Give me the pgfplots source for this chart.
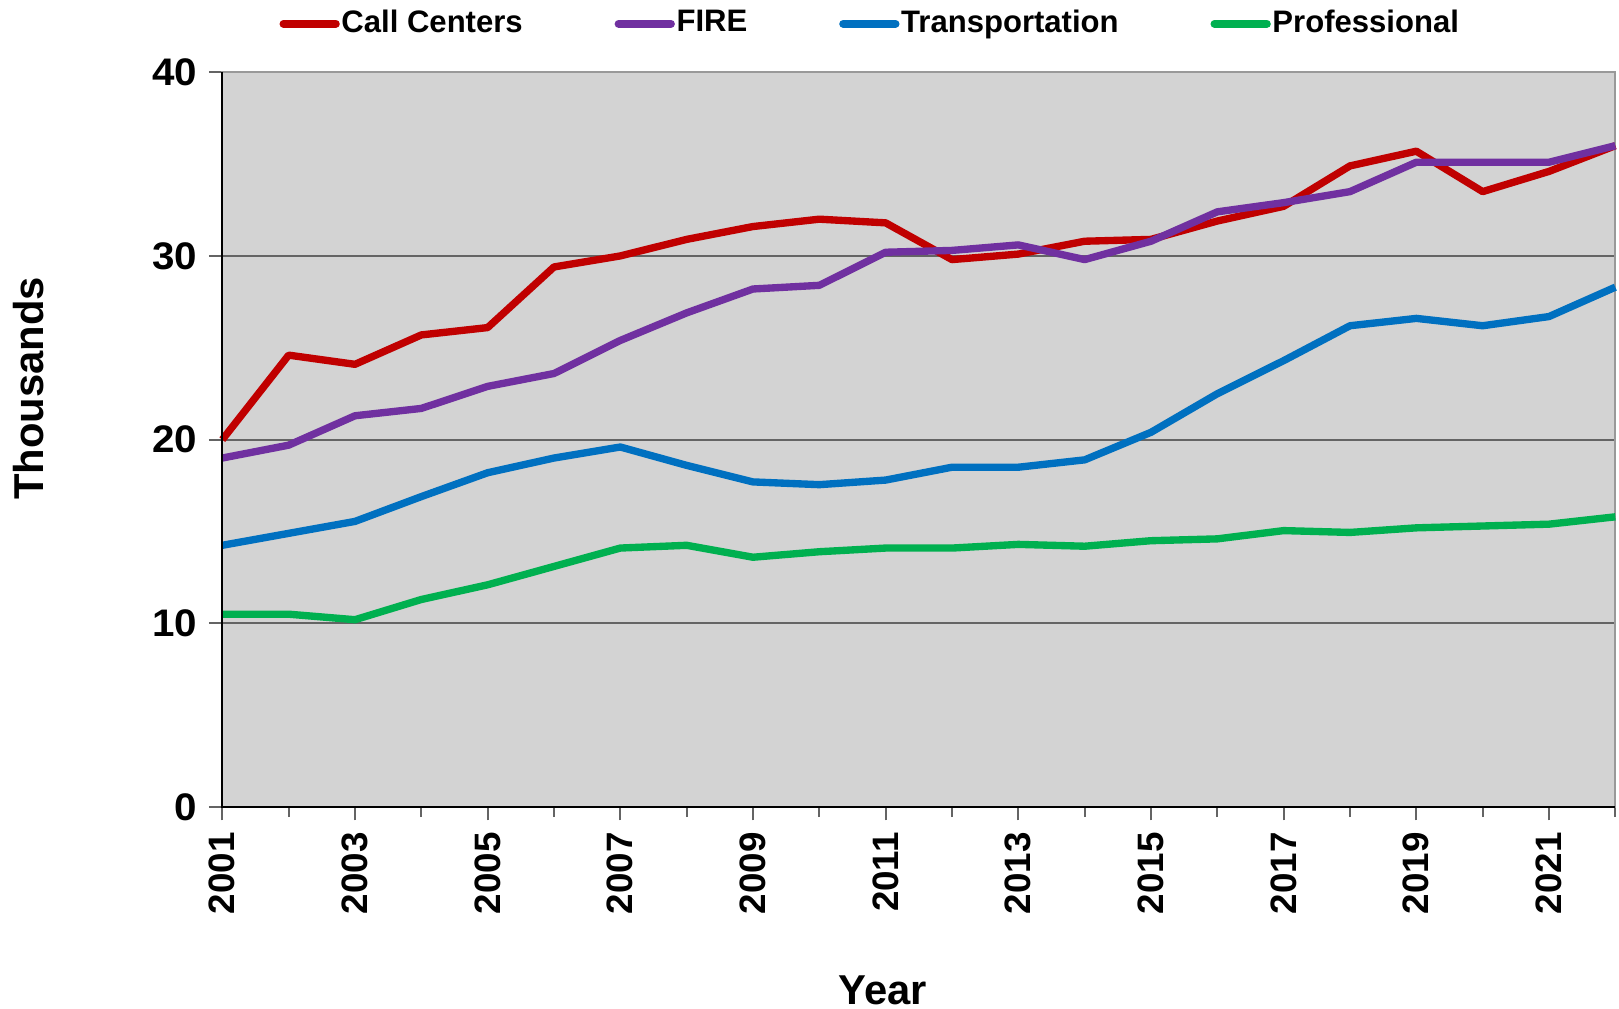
\documentclass[border=0pt]{standalone}
\usepackage{fontspec}
\setmainfont{Liberation Sans}
\usepackage{graphicx}
\usepackage{pgfplots}
\pgfplotsset{compat=1.18}
\definecolor{callred}{RGB}{192,0,0}
\definecolor{firepurple}{RGB}{112,48,160}
\definecolor{transblue}{RGB}{0,112,192}
\definecolor{profgreen}{RGB}{0,176,80}
\definecolor{plotbg}{RGB}{211,211,211}
\definecolor{gridgray}{RGB}{100,100,100}

\begin{document}
\begin{tikzpicture}
\begin{axis}[
    scale only axis,
    width=417pt,
    height=220pt,
    xmin=2001, xmax=2022,
    ymin=0, ymax=40,
    ytick={0,10,20,30,40},
    xtick={2001,2003,...,2021},
    minor xtick={2002,2004,...,2022},
    xtick pos=bottom,
    ytick pos=left,
    tick align=outside,
    major tick length=4pt,
    minor tick length=3pt,
    tick style={draw=gridgray, line width=0.6pt},
    ymajorgrids,
    grid style={draw=gridgray, line width=0.6pt},
    axis background/.style={fill=plotbg},
    axis line style={draw=gray!80, line width=0.6pt},
    ticklabel style={font=\fontsize{11.5}{12}\selectfont\bfseries},
    xticklabel={\pgfmathprintnumber[1000 sep={},assume math mode=true]{\tick}},
    yticklabel={\scalebox{1.05}[1]{\pgfmathprintnumber[assume math mode=true]{\tick}}},
    x tick label style={rotate=90, anchor=east, font=\fontsize{11}{12}\selectfont\bfseries},
    xlabel={Year},
    ylabel={Thousands},
    label style={font=\fontsize{12.5}{14}\selectfont\bfseries},
    xlabel style={at={(axis description cs:0.474,-0.249)}, anchor=center, inner sep=1.2pt},
    ylabel style={at={(axis description cs:-0.139,0.57)}, anchor=center, inner sep=4pt},
    legend columns=4,
    legend style={
        draw=none, fill=none,
        at={(axis description cs:0.465,1)}, anchor=center, yshift=14.5pt,
        font=\fontsize{9.3}{11}\selectfont\bfseries,
        nodes={inner xsep=0.5pt, inner ysep=0.5pt},
        /tikz/every odd column/.append style={column sep=0pt},
        /tikz/every even column/.append style={column sep=27pt},
        inner xsep=0pt, inner ysep=2.5pt,
    },
    legend image code/.code={\draw[#1, line width=2.4pt, line cap=round] (0cm,0cm) -- (0.55cm,0cm);},
    every axis plot/.append style={line width=2.2pt, line join=round},
    clip=false,
]
\addplot[callred] coordinates {
    (2001,20.0) (2002,24.6) (2003,24.1) (2004,25.7) (2005,26.1) (2006,29.4)
    (2007,30.0) (2008,30.9) (2009,31.6) (2010,32.0) (2011,31.8) (2012,29.8)
    (2013,30.1) (2014,30.8) (2015,30.9) (2016,31.9) (2017,32.7) (2018,34.9)
    (2019,35.7) (2020,33.5) (2021,34.6) (2022,36.0)
};
\addlegendentry{Call Centers}
\addplot[firepurple] coordinates {
    (2001,19.0) (2002,19.7) (2003,21.3) (2004,21.7) (2005,22.9) (2006,23.6)
    (2007,25.4) (2008,26.9) (2009,28.2) (2010,28.4) (2011,30.2) (2012,30.3)
    (2013,30.6) (2014,29.8) (2015,30.8) (2016,32.4) (2017,32.9) (2018,33.5)
    (2019,35.1) (2020,35.1) (2021,35.1) (2022,36.0)
};
\addlegendentry{FIRE}
\addplot[transblue] coordinates {
    (2001,14.25) (2002,14.9) (2003,15.55) (2004,16.9) (2005,18.2) (2006,19.0)
    (2007,19.6) (2008,18.6) (2009,17.7) (2010,17.55) (2011,17.8) (2012,18.5)
    (2013,18.5) (2014,18.9) (2015,20.4) (2016,22.5) (2017,24.3) (2018,26.2)
    (2019,26.6) (2020,26.2) (2021,26.7) (2022,28.3)
};
\addlegendentry{Transportation}
\addplot[profgreen] coordinates {
    (2001,10.5) (2002,10.5) (2003,10.2) (2004,11.3) (2005,12.1) (2006,13.1)
    (2007,14.1) (2008,14.25) (2009,13.6) (2010,13.9) (2011,14.1) (2012,14.1)
    (2013,14.3) (2014,14.2) (2015,14.5) (2016,14.6) (2017,15.05) (2018,14.95)
    (2019,15.2) (2020,15.3) (2021,15.4) (2022,15.8)
};
\addlegendentry{Professional}
\draw[black, line width=0.7pt] (rel axis cs:0,1) -- (rel axis cs:0,0) -- (rel axis cs:1,0);
\end{axis}
\end{tikzpicture}
\end{document}
